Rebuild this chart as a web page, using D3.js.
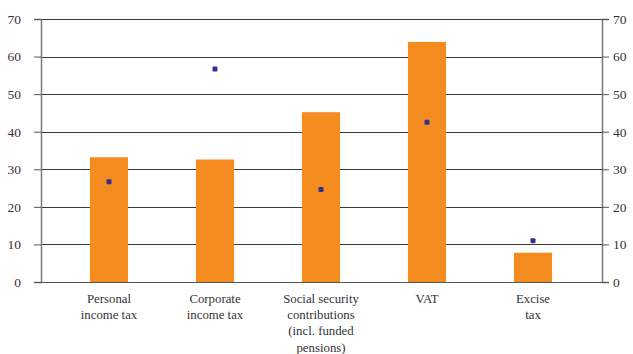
<!DOCTYPE html>
<html><head><meta charset="utf-8">
<script src="https://cdn.jsdelivr.net/npm/d3@7"></script>
<style>body{margin:0;background:#fff}svg{display:block}</style>
</head><body>
<svg id="c" width="633" height="354" font-family="Liberation Serif, Times, serif"></svg>
<script>
const categories = [["Personal","income tax"],["Corporate","income tax"],["Social security","contributions","(incl. funded","pensions)"],["VAT"],["Excise","tax"]];
const barValues = [33.2, 32.6, 45.2, 63.9, 7.8];
const dotValues = [26.7, 56.7, 24.6, 42.5, 11.0];
const yTicks = [0,10,20,30,40,50,60,70];

const FONT = "Liberation Serif, Times, serif";
const svg = d3.select("#c");
const L = 41, R = 602, T = 19, B = 282;
const keys = categories.map((c,i)=>i);
const x = d3.scaleBand().domain(keys).range([56,586]).paddingInner(0.64).paddingOuter(0.32);
const y = d3.scaleLinear().domain([0,70]).range([B,T]);

// gridlines
svg.append("g").selectAll("line").data(yTicks).join("line")
  .attr("x1",L).attr("x2",R).attr("y1",d=>Math.round(y(d))+0.5).attr("y2",d=>Math.round(y(d))+0.5)
  .attr("stroke","#3a3a3a").attr("stroke-width",1);

// bars
svg.append("g").selectAll("rect").data(barValues).join("rect")
  .attr("x",(d,i)=>x(i)).attr("width",x.bandwidth())
  .attr("y",d=>y(d)).attr("height",d=>B-y(d))
  .attr("fill","#f58c20");

// axes
const left = svg.append("g").attr("transform",`translate(${L},0)`)
  .call(d3.axisLeft(y).tickValues(yTicks).tickSize(7).tickPadding(13));
const right = svg.append("g").attr("transform",`translate(${R},0)`)
  .call(d3.axisRight(y).tickValues(yTicks).tickSize(7).tickPadding(4));
[left,right].forEach(g=>{
  g.attr("font-family",FONT).attr("font-size",13.5);
  g.select(".domain").attr("stroke","#7a7a7a").attr("stroke-width",1.5);
  g.selectAll(".tick line").attr("stroke","#555");
  g.selectAll("text").attr("fill","#333").style("font-family",FONT);
});
// bottom baseline
svg.append("line").attr("x1",L).attr("x2",R).attr("y1",B+0.5).attr("y2",B+0.5).attr("stroke","#555").attr("stroke-width",1.2);

// dots
svg.append("g").selectAll("rect").data(dotValues).join("rect")
  .attr("x",(d,i)=>x(i)+x.bandwidth()/2-2.5).attr("y",d=>y(d)-2.5)
  .attr("width",5).attr("height",5).attr("rx",1.2)
  .attr("fill","#2e3192");

// category labels
const lab = svg.append("g").selectAll("text").data(categories).join("text")
  .attr("x",(d,i)=>x(i)+x.bandwidth()/2).attr("y",303)
  .attr("text-anchor","middle").attr("font-size",12.8).attr("fill","#333")
  .style("font-family",FONT);
lab.selectAll("tspan").data(d=>d).join("tspan")
  .attr("x",function(){return this.parentNode.getAttribute("x");})
  .attr("dy",(d,i)=>i===0?0:16.2).text(d=>d);
</script>
</body></html>
